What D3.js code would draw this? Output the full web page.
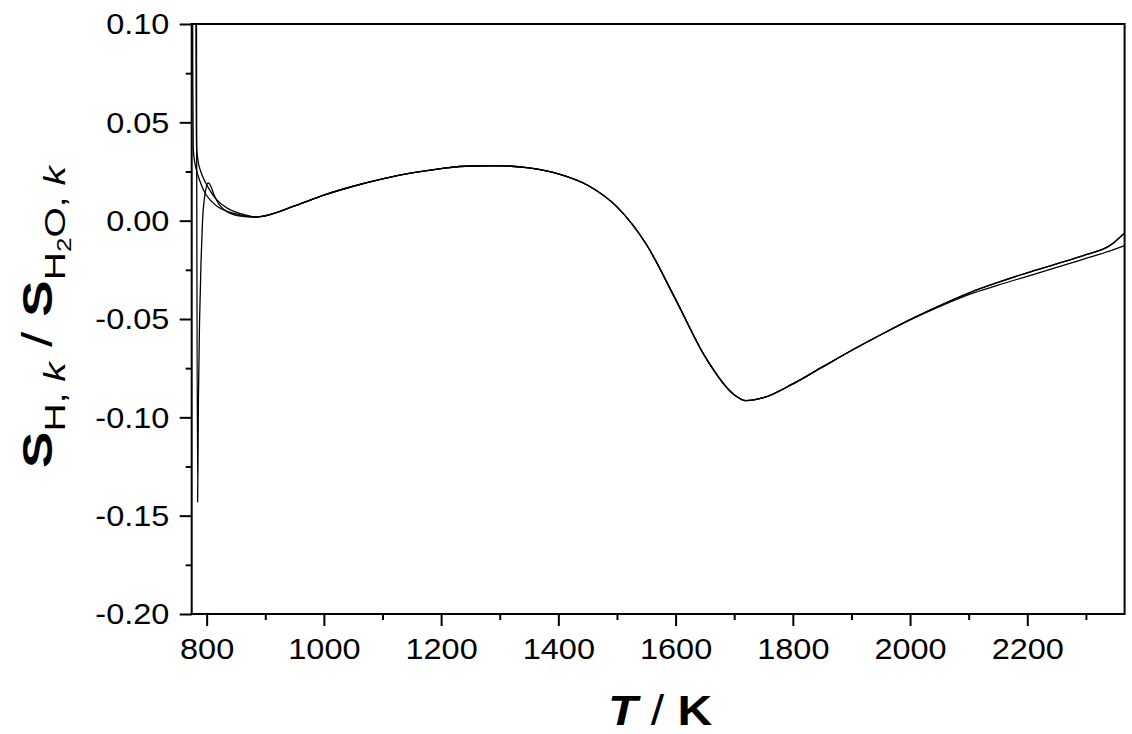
<!DOCTYPE html>
<html>
<head>
<meta charset="utf-8">
<script src="https://cdn.jsdelivr.net/npm/d3@7"></script>
<style>
  html, body { margin: 0; padding: 0; background: #fff; }
  svg { display: block; }
  text { font-family: "Liberation Sans", Arial, Helvetica, sans-serif; fill: #000; }
</style>
</head>
<body>
<svg id="chart" width="1132" height="734"></svg>
<script>
// ---------------- data ----------------
// left part (T < 900 K), where the three runs differ
const leftTempsA = [775, 775.6, 776.3, 777.1, 779, 782, 785, 788.6, 794, 800, 808.5, 820, 835, 857, 872, 884];
const leftValsA  = [0.40, 0.20, 0.075, 0.037, 0.031, 0.0265, 0.0232, 0.0200, 0.0160, 0.0128, 0.0098, 0.0068, 0.0047, 0.0030, 0.0022, 0.0018];

const leftTempsB = [775, 781, 781.8, 782.3, 782.9, 785, 790, 797, 805, 812, 820, 835, 850, 865, 884];
const leftValsB  = [1.00, 0.25, 0.10, 0.055, 0.037, 0.031, 0.025, 0.0200, 0.0157, 0.0125, 0.0098, 0.0064, 0.0043, 0.0030, 0.0019];

const leftTempsC = [775, 782, 784.6, 786, 788, 790.5, 793, 797, 802.7, 807, 812, 820, 830, 845, 865, 884];
const leftValsC  = [1.00, 0.20, -0.143, -0.09, -0.05, -0.02, 0.000, 0.013, 0.0192, 0.0176, 0.0136, 0.0088, 0.0055, 0.0032, 0.0021, 0.0018];

// middle part, common to all runs
const midTemps = [900, 950, 1000, 1050, 1100, 1150, 1200, 1250, 1300, 1350, 1400, 1450, 1500, 1550, 1600, 1650, 1700, 1720, 1750, 1800, 1850, 1900, 1950];
const midVals  = [0.0025, 0.0075, 0.0130, 0.0175, 0.0213, 0.0243, 0.0265, 0.0278, 0.0279, 0.0268, 0.0238, 0.0180, 0.0070, -0.0120, -0.0400, -0.0690, -0.0885, -0.0915, -0.0900, -0.0830, -0.0745, -0.0660, -0.0580];

// right tail, where the runs separate slightly
const tailTemps = [2000, 2050, 2100, 2150, 2200, 2250, 2300, 2340, 2366];
const tailUpper = [-0.0503, -0.0433, -0.0368, -0.0314, -0.0265, -0.0220, -0.0173, -0.0128, -0.0062];
const tailLower = [-0.0505, -0.0437, -0.0376, -0.0328, -0.0283, -0.0238, -0.0192, -0.0155, -0.0127];

// axes
const xDomain = [774.5, 2366];
const yDomain = [-0.20, 0.10];
const xMajorTicks = [800, 1000, 1200, 1400, 1600, 1800, 2000, 2200];
const xTickLabels = ["800", "1000", "1200", "1400", "1600", "1800", "2000", "2200"];
const xMinorTicks = [900, 1100, 1300, 1500, 1700, 1900, 2100, 2300];
const yMajorTicks = [-0.20, -0.15, -0.10, -0.05, 0.00, 0.05, 0.10];
const yTickLabels = ["-0.20", "-0.15", "-0.10", "-0.05", "0.00", "0.05", "0.10"];
const yMinorTicks = [-0.175, -0.125, -0.075, -0.025, 0.025, 0.075];

// ---------------- build series ----------------
function zip(ts, vs) { return ts.map((t, i) => ({ t: t, v: vs[i] })); }
const seriesA = zip(leftTempsA, leftValsA).concat(zip(midTemps, midVals), zip(tailTemps, tailUpper));
const seriesB = zip(leftTempsB, leftValsB).concat(zip(midTemps, midVals), zip(tailTemps, tailUpper));
const seriesC = zip(leftTempsC, leftValsC).concat(zip(midTemps, midVals), zip(tailTemps, tailLower));
const allSeries = [seriesA, seriesB, seriesC];

// ---------------- layout ----------------
const L = 191.7, R = 1124.6, T = 24, B = 614;
const svg = d3.select("#chart");
const x = d3.scaleLinear().domain(xDomain).range([L, R]);
const y = d3.scaleLinear().domain(yDomain).range([B, T]);
const SX = 1.12; // horizontal stretch of the reference lettering

svg.append("defs").append("clipPath").attr("id", "plotclip")
  .append("rect").attr("x", L).attr("y", T).attr("width", R - L).attr("height", B - T);

// curves
const line = d3.line().x(d => x(d.t)).y(d => y(d.v)).curve(d3.curveMonotoneX);
svg.append("g").attr("clip-path", "url(#plotclip)")
  .selectAll("path").data(allSeries).join("path")
  .attr("d", line)
  .attr("fill", "none")
  .attr("stroke", "#000")
  .attr("stroke-width", 1.3);

// bottom axis
const xAxis = svg.append("g").attr("transform", `translate(0,${B})`)
  .call(d3.axisBottom(x).tickValues(xMajorTicks).tickSize(12).tickSizeOuter(0)
    .tickFormat((d, i) => xTickLabels[i]));
const xMinor = svg.append("g").attr("transform", `translate(0,${B})`)
  .call(d3.axisBottom(x).tickValues(xMinorTicks).tickSize(6).tickSizeOuter(0).tickFormat(""));

// left axis
const yAxis = svg.append("g").attr("transform", `translate(${L},0)`)
  .call(d3.axisLeft(y).tickValues(yMajorTicks).tickSize(12).tickSizeOuter(0)
    .tickFormat((d, i) => yTickLabels[i]));
const yMinor = svg.append("g").attr("transform", `translate(${L},0)`)
  .call(d3.axisLeft(y).tickValues(yMinorTicks).tickSize(6).tickSizeOuter(0).tickFormat(""));

[xAxis, xMinor, yAxis, yMinor].forEach(g => {
  g.select(".domain").remove();
  g.selectAll(".tick line").attr("stroke", "#000").attr("stroke-width", 2);
});
xAxis.selectAll(".tick text")
  .attr("font-size", 29).attr("y", 24).attr("dy", "0.71em")
  .attr("transform", `scale(${SX},1)`);
yAxis.selectAll(".tick text")
  .attr("font-size", 29).attr("x", -20).attr("dy", "0.34em")
  .attr("transform", `scale(${SX},1)`);

// frame
svg.append("rect").attr("x", L).attr("y", T).attr("width", R - L).attr("height", B - T)
  .attr("fill", "none").attr("stroke", "#000").attr("stroke-width", 2);

// x title: T / K
const xt = svg.append("text")
  .attr("transform", `translate(${(L + R) / 2 + 2},725) scale(${SX},1)`)
  .attr("text-anchor", "middle").attr("font-size", 43).attr("font-weight", "bold");
xt.append("tspan").attr("font-style", "italic").text("T");
xt.append("tspan").attr("font-weight", "normal").text(" / ");
xt.append("tspan").text("K");

// y title: S_{H,k} / S_{H2O,k}
const yt = svg.append("text")
  .attr("transform", `translate(52,317) rotate(-90) scale(1.3,1)`)
  .attr("text-anchor", "middle").attr("font-size", 42);
yt.append("tspan").attr("font-weight", "bold").text("S");
yt.append("tspan").attr("font-size", 30).attr("dy", 13).text("H, ");
yt.append("tspan").attr("font-size", 30).attr("font-style", "italic").text("k");
yt.append("tspan").attr("dy", -13).text(" / ");
yt.append("tspan").attr("font-weight", "bold").text("S");
yt.append("tspan").attr("font-size", 30).attr("dy", 13).text("H");
yt.append("tspan").attr("font-size", 20).attr("dy", 6).text("2");
yt.append("tspan").attr("font-size", 30).attr("dy", -6).text("O, ");
yt.append("tspan").attr("font-size", 30).attr("font-style", "italic").text("k");
</script>
</body>
</html>
